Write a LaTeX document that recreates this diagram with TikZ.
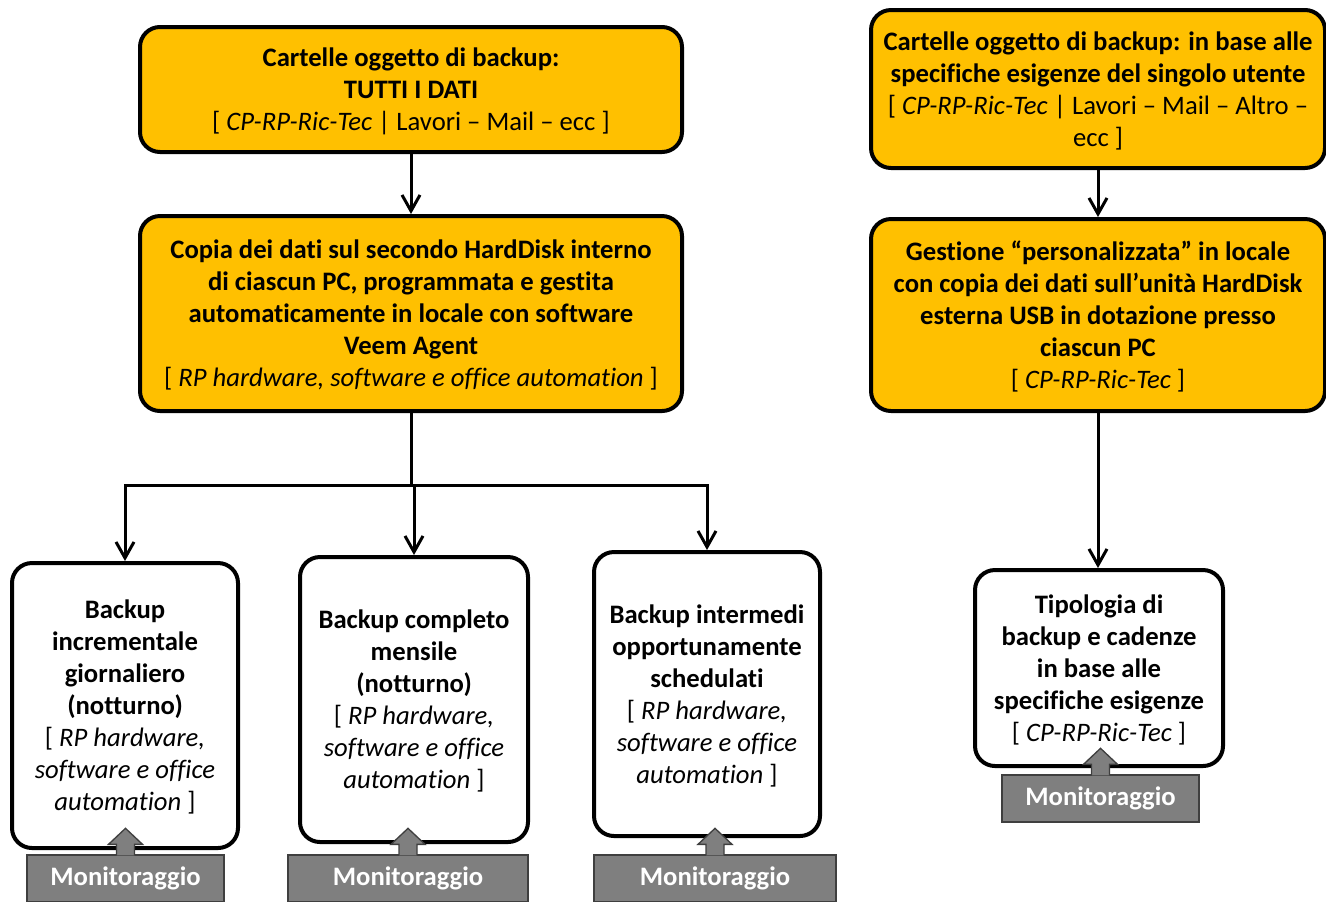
\documentclass[tikz,border=0pt]{standalone}
\usepackage{fontspec}
\setmainfont{Carlito}[Ligatures={NoCommon}]
\usetikzlibrary{arrows.meta,calc}
\definecolor{gold}{HTML}{FFC000}
\definecolor{mgray}{HTML}{7F7F7F}
\definecolor{dgray}{HTML}{3F3F3F}
\newcommand{\plainx}[1]{{\mdseries #1}}
\newcommand{\italx}[1]{{\mdseries\itshape #1}}
\begin{document}
\begin{tikzpicture}[x=0.75pt,y=-0.75pt,
 txt/.style={font=\fontsize{20}{24}\selectfont\bfseries, align=center, inner sep=0pt, text depth=0pt},
 gbox/.style={txt, draw, line width=3pt, fill=gold, rounded corners=15pt},
 wbox/.style={txt, draw, line width=3pt, fill=white, rounded corners=15pt},
 mbox/.style={draw=dgray, line width=1pt, fill=mgray, text=white, font=\fontsize{20}{24}\selectfont\bfseries, inner sep=0pt, minimum height=35.25pt},
 conn/.style={line width=2.25pt, -{Straight Barb[length=12pt,width=13.5pt,line width=2.25pt]}},
 plainline/.style={line width=2.25pt},
 barrow/.style={draw=dgray, line width=1pt, fill=mgray, line join=miter}]
\useasboundingbox (0,0) rectangle (1326,901);

% top yellow boxes
\node[gbox, minimum width=406.5pt, minimum height=93.75pt] (A) at (411,89.5)
 {Cartelle oggetto di backup:\\TUTTI I DATI\\\plainx{[ }\italx{CP-RP-Ric-Tec}\plainx{ | Lavori – Mail – ecc ]}};
\node[gbox, minimum width=406.5pt, minimum height=146.25pt] (B) at (411,313.5)
 {Copia dei dati sul secondo HardDisk interno\\di ciascun PC, programmata e gestita\\automaticamente in locale con software\\Veem Agent\\\plainx{[ }\italx{RP hardware, software e office automation}\plainx{ ]}};
\node[gbox, minimum width=340.5pt, minimum height=118.5pt] (C) at (1098,89)
 {Cartelle oggetto di backup: in base alle\\specifiche esigenze del singolo utente\\\plainx{[ }\italx{CP-RP-Ric-Tec}\plainx{ | Lavori – Mail – Altro –}\\\plainx{ecc ]}};
\node[gbox, minimum width=340.5pt, minimum height=144pt] (D) at (1098,315)
 {Gestione “personalizzata” in locale\\con copia dei dati sull’unità HardDisk\\esterna USB in dotazione presso\\ciascun PC\\\plainx{[ }\italx{CP-RP-Ric-Tec}\plainx{ ]}};

% white boxes
\node[wbox, minimum width=169.5pt, minimum height=213.75pt] (E1) at (125,705.5)
 {Backup\\incrementale\\giornaliero\\(notturno)\\\plainx{[ }\italx{RP hardware,}\\\italx{software e office}\\\italx{automation}\plainx{ ]}};
\node[wbox, minimum width=171pt, minimum height=213.75pt] (E2) at (414,699.5)
 {Backup completo\\mensile\\(notturno)\\\plainx{[ }\italx{RP hardware,}\\\italx{software e office}\\\italx{automation}\plainx{ ]}};
\node[wbox, minimum width=169.5pt, minimum height=213pt] (E3) at (707,694)
 {Backup intermedi\\opportunamente\\schedulati\\\plainx{[ }\italx{RP hardware,}\\\italx{software e office}\\\italx{automation}\plainx{ ]}};
\node[wbox, minimum width=186pt, minimum height=147pt] (E4) at (1099,668)
 {Tipologia di\\backup e cadenze\\in base alle\\specifiche esigenze\\\plainx{[ }\italx{CP-RP-Ric-Tec}\plainx{ ]}};

% monitoraggio boxes
\node[mbox, minimum width=147.75pt] (M1) at (125.5,878.5) {Monitoraggio};
\node[mbox, minimum width=180pt] (M2) at (408,878.5) {Monitoraggio};
\node[mbox, minimum width=181.5pt] (M3) at (715,878.5) {Monitoraggio};
\node[mbox, minimum width=147.75pt] (M4) at (1100.5,798.5) {Monitoraggio};

% block arrows
\foreach \m in {M1,M2,M3,M4} {
  \draw[barrow] ($(\m.north)+(-9,1)$) -- ++(0,-11) -- ++(-8,0) -- ++(17,-16) -- ++(17,16) -- ++(-8,0) -- ++(0,11);
}

% connectors
\coordinate (j) at (411,485);
\draw[conn] (A) -- (B);
\draw[plainline] (B.south) -- (j);
\draw[conn] (j) -| (E1.north);
\draw[conn] (j) -| (E2.north);
\draw[conn] (j) -| (E3.north);
\draw[conn] (C) -- (D);
\draw[conn] (D.south) -- (D.south |- E4.north);
\end{tikzpicture}
\end{document}
